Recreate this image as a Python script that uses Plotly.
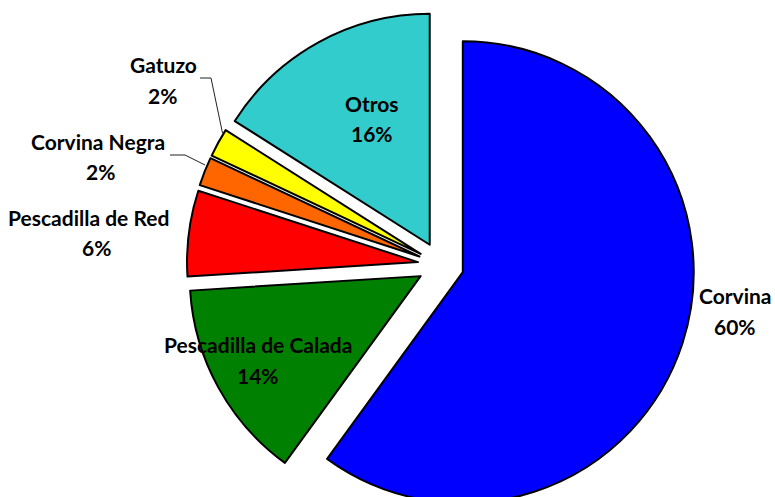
import plotly.graph_objects as go

categories = ["Corvina", "Pescadilla de Calada", "Pescadilla de Red", "Corvina Negra", "Gatuzo", "Otros"]
values = [60, 14, 6, 2, 2, 16]
colors = ["#0000FF", "#008000", "#FF0000", "#FF6600", "#FFFF00", "#33CCCC"]

W, H = 775, 530
FONT = "Lato"

def px(x):
    return x / W

def py(y):
    return 1 - y / H

fig = go.Figure()
fig.add_trace(go.Pie(
    labels=categories, values=values, sort=False, direction="clockwise", rotation=0,
    marker=dict(colors=colors, line=dict(color="black", width=2)),
    pull=[0.1] * len(values), textinfo="none", hoverinfo="label+percent",
    showlegend=False,
    domain=dict(x=[px(186.7), px(695.0)], y=[py(519.0), py(11.0)]),
))

# label positions (pixel centres of name line and percent line)
label_pos = {
    "Corvina": (735, 295, 735, 326),
    "Pescadilla de Calada": (258, 344, 258, 375),
    "Pescadilla de Red": (88, 217, 96, 247),
    "Corvina Negra": (98, 142, 100, 171),
    "Gatuzo": (163, 65, 162, 96),
    "Otros": (372, 104, 372, 134),
}
total = sum(values)
for cat, v in zip(categories, values):
    x1, y1, x2, y2 = label_pos[cat]
    for xx, yy, txt in [(x1, y1, cat), (x2, y2, f"{round(v / total * 100)}%")]:
        fig.add_annotation(x=px(xx), y=py(yy), xref="paper", yref="paper", text=f"<b>{txt}</b>",
                           showarrow=False, xanchor="center", yanchor="middle",
                           font=dict(family=FONT, size=21, color="black"))

# leader lines
leaders = [
    [(200, 78), (211, 78), (222.5, 133)],
    [(170, 155), (185, 155), (205, 165)],
]
for pts in leaders:
    path = "M " + " L ".join(f"{px(a)},{py(b)}" for a, b in pts)
    fig.add_shape(type="path", path=path, xref="paper", yref="paper",
                  line=dict(color="#222222", width=1))

fig.update_layout(width=W, height=H, margin=dict(l=0, r=0, t=0, b=0),
                  paper_bgcolor="white", plot_bgcolor="white")

fig.write_html("out.html", config={"displayModeBar": False},
               post_script="document.body.style.margin='0';document.body.style.overflow='hidden';document.documentElement.style.overflow='hidden';")
